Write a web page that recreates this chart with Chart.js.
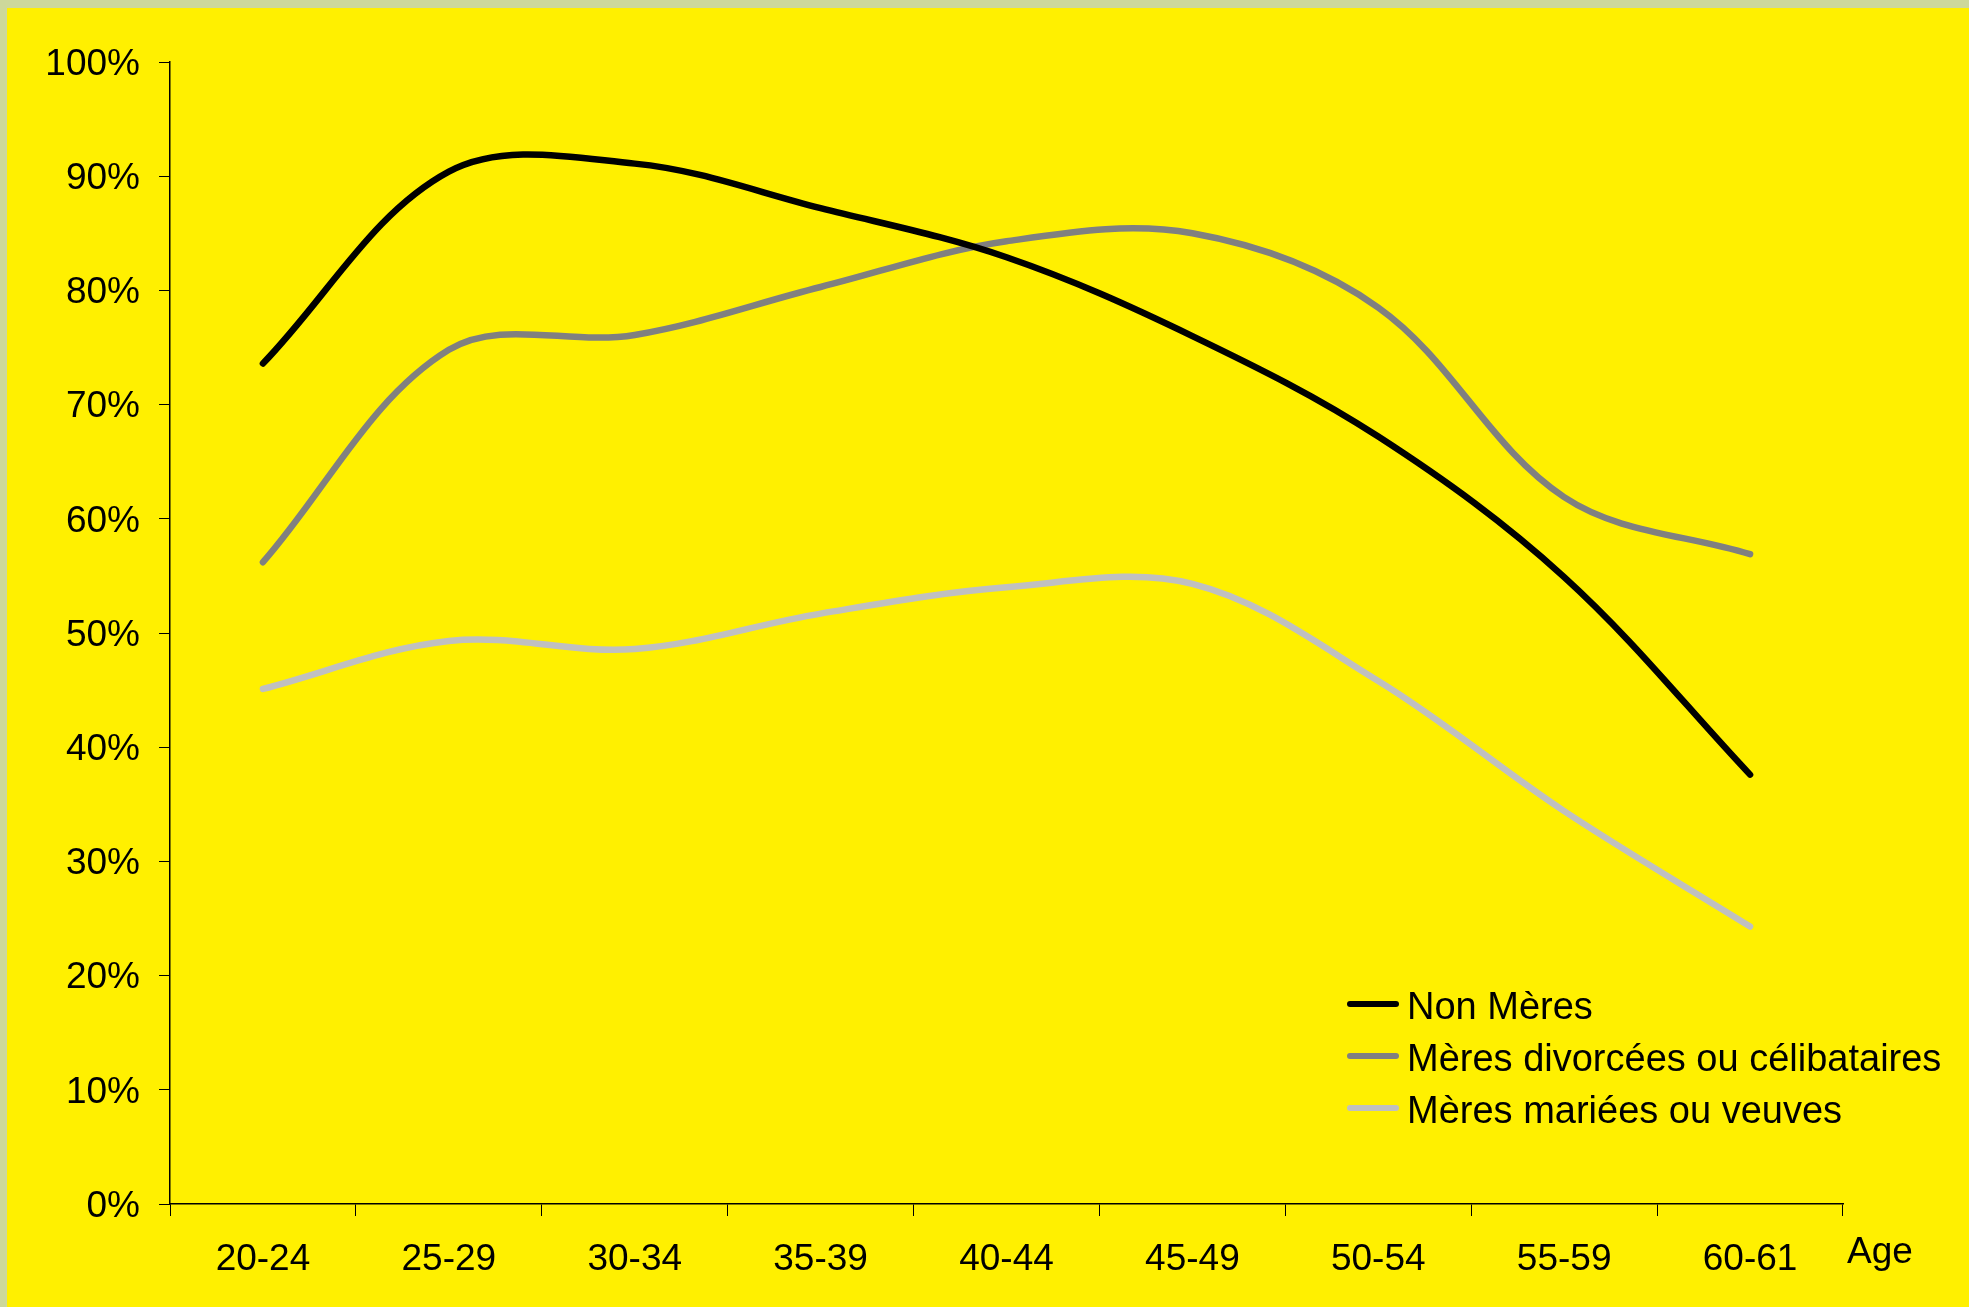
<!DOCTYPE html>
<html>
<head>
<meta charset="utf-8">
<script src="https://cdn.jsdelivr.net/npm/chart.js@4/dist/chart.umd.min.js"></script>
<style>
  html, body { margin: 0; padding: 0; background: #CDD89B; overflow: hidden; }
  #wrap { position: absolute; left: 7px; top: 8px; width: 1962px; height: 1299px; background: #FFF000; }
  canvas { display: block; }
</style>
</head>
<body>
<div id="wrap"><canvas id="c" width="1962" height="1299"></canvas></div>
<script>
// Age groups along the x axis
const ageGroups = ['20-24', '25-29', '30-34', '35-39', '40-44', '45-49', '50-54', '55-59', '60-61'];

// Activity rate (%) per age group
const nonMeres = [73.6, 90.4, 91.1, 87.2, 82.9, 76.0, 67.2, 54.9, 37.6];
const meresDivorceesCelibataires = [56.2, 74.8, 76.1, 80.3, 84.3, 85.0, 78.5, 61.9, 56.9];
const meresMarieesVeuves = [45.1, 49.3, 48.6, 51.7, 54.0, 54.3, 45.8, 34.4, 24.3];

// Y axis ticks: 0% .. 100% by 10
const yTicks = [0, 10, 20, 30, 40, 50, 60, 70, 80, 90, 100];

const seriesLabels = ['Non Mères', 'Mères divorcées ou célibataires', 'Mères mariées ou veuves'];
const seriesColors = ['#000000', '#808080', '#C0C0C0'];

const FONT = '"Liberation Sans", Arial, sans-serif';

// Legend drawn inside the plot area, lower right
const insetLegend = {
  id: 'insetLegend',
  afterDraw(chart) {
    const ctx = chart.ctx;
    ctx.save();
    chart.data.datasets.forEach((ds, i) => {
      const base = 1011 + i * 52;
      const ly = base - 15;
      ctx.strokeStyle = ds.borderColor;
      ctx.lineWidth = 6;
      ctx.lineCap = 'round';
      ctx.beginPath();
      ctx.moveTo(1343, ly);
      ctx.lineTo(1389, ly);
      ctx.stroke();
      ctx.fillStyle = '#000';
      ctx.font = '38px ' + FONT;
      ctx.textAlign = 'left';
      ctx.textBaseline = 'alphabetic';
      ctx.fillText(ds.label, 1400, base);
    });
    // Axis caption at the end of the x axis
    ctx.fillStyle = '#000';
    ctx.font = '37px ' + FONT;
    ctx.textAlign = 'left';
    ctx.textBaseline = 'alphabetic';
    ctx.fillText('Age', chart.chartArea.right + 4, 1255);
    ctx.restore();
  }
};

const datasets = [nonMeres, meresDivorceesCelibataires, meresMarieesVeuves].map((vals, i) => ({
  label: seriesLabels[i],
  data: vals,
  borderColor: seriesColors[i],
  backgroundColor: seriesColors[i],
  borderWidth: 6.5,
  borderCapStyle: 'round',
  borderJoinStyle: 'round',
  pointRadius: 0,
  tension: 0.35,
  fill: false
}));

new Chart(document.getElementById('c'), {
  type: 'line',
  data: { labels: ageGroups, datasets },
  options: {
    responsive: false,
    animation: false,
    layout: { padding: { left: 0, top: 54, right: 126, bottom: 0 } },
    plugins: {
      legend: { display: false },
      tooltip: { enabled: false },
      title: { display: false }
    },
    scales: {
      x: {
        offset: true,
        grid: { display: true, drawOnChartArea: false, offset: true, tickLength: 12, color: '#000', lineWidth: 1 },
        border: { display: true, color: '#000', width: 1.5 },
        ticks: { color: '#000', font: { family: FONT, size: 37 }, padding: 22, maxRotation: 0, autoSkip: false },
        afterFit(scale) { scale.height = 103; }
      },
      y: {
        min: 0,
        max: 100,
        afterBuildTicks(scale) { scale.ticks = yTicks.map(v => ({ value: v })); },
        grid: { display: true, drawOnChartArea: false, tickLength: 11, color: '#000', lineWidth: 1 },
        border: { display: true, color: '#000', width: 1.5 },
        ticks: { color: '#000', font: { family: FONT, size: 37 }, padding: 19, labelOffset: 2.5, callback: v => v + '%' },
        afterFit(scale) { scale.width = 163; }
      }
    }
  },
  plugins: [insetLegend]
});
</script>
</body>
</html>
